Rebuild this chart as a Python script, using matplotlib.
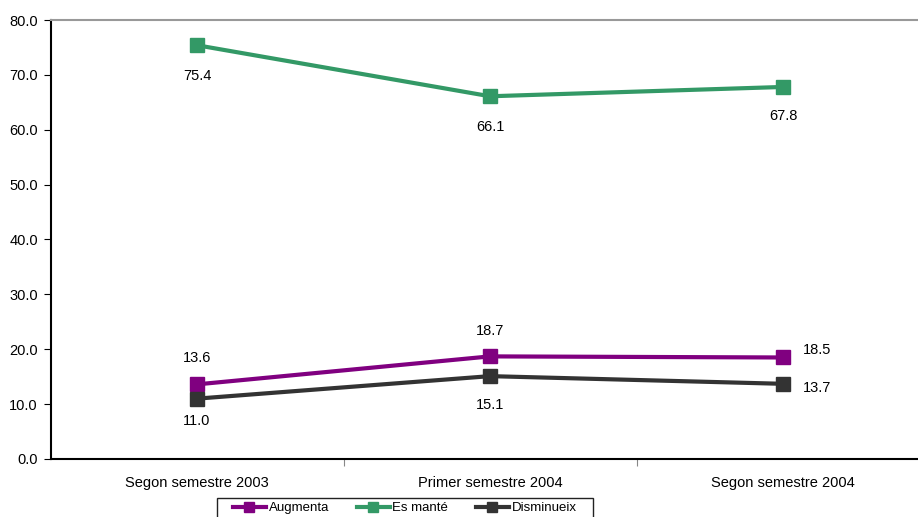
import matplotlib
matplotlib.use("Agg")
import matplotlib.pyplot as plt
from matplotlib.lines import Line2D
from matplotlib.patches import Rectangle

plt.rcParams['font.family'] = ['Liberation Sans', 'DejaVu Sans']

categories = ["Segon semestre 2003", "Primer semestre 2004", "Segon semestre 2004"]
augmenta = [13.6, 18.7, 18.5]
es_mante = [75.4, 66.1, 67.8]
disminueix = [11.0, 15.1, 13.7]
series_names = ["Augmenta", "Es manté", "Disminueix"]
colors = ["#800080", "#339966", "#333333"]

fig = plt.figure(figsize=(9.18, 5.17), dpi=100)
W, H = 918, 517
ax = fig.add_axes([50.5 / W, 1 - 459 / H, 879 / W, (459 - 20) / H])

x = list(range(len(categories)))
for vals, c, name in zip([augmenta, es_mante, disminueix], colors, series_names):
    ax.plot(x, vals, color=c, lw=3, marker='s', ms=10, mec=c, mfc=c, label=name, clip_on=False, zorder=3)

fs = 10.5
offsets_aug = [(0, 14, 'center', 'bottom'), (0, 13, 'center', 'bottom'), (14, 0, 'left', 'bottom')]
offsets_es = [(0, -17, 'center', 'top'), (0, -17, 'center', 'top'), (0, -16, 'center', 'top')]
offsets_dis = [(0, -11, 'center', 'top'), (0, -16, 'center', 'top'), (14, -3, 'left', 'center')]
for vals, offs in [(augmenta, offsets_aug), (es_mante, offsets_es), (disminueix, offsets_dis)]:
    for xi, v, (dx, dy, ha, va) in zip(x, vals, offs):
        ax.annotate(f"{v:.1f}", (xi, v), xytext=(dx, dy), textcoords='offset points',
                    ha=ha, va=va, fontsize=fs, color='black')

ax.set_xlim(-0.5, 2.5)
ax.set_ylim(0, 80)
yt = [0, 10, 20, 30, 40, 50, 60, 70, 80]
ax.set_yticks(yt)
ax.set_yticklabels([f"{v:.1f}" for v in yt], fontsize=fs)
ax.set_xticks([0.5, 1.5])
ax.set_xticklabels([])
ax.set_xticks(x, minor=True)
ax.set_xticklabels(categories, minor=True, fontsize=fs)
ax.tick_params(axis='x', which='minor', length=0, pad=12)
ax.tick_params(axis='x', which='major', length=5, direction='out', color='#888888')
ax.tick_params(axis='y', length=5, direction='out', pad=4)

ax.spines['right'].set_visible(False)
ax.spines['top'].set_color('#999999')
ax.spines['top'].set_linewidth(1.5)
ax.spines['left'].set_linewidth(1.5)
ax.spines['bottom'].set_linewidth(1.5)
ax.spines['left'].set_color('black')
ax.spines['bottom'].set_color('black')

# legend frame
fig.patches.append(Rectangle((217 / W, 1 - 522 / H), (593 - 217) / W, (522 - 498) / H,
                             transform=fig.transFigure, facecolor='white', edgecolor='#222222',
                             linewidth=1.0, zorder=5))
handles = [Line2D([0], [0], color=c, lw=3, marker='s', ms=7, mfc=c, mec=c) for c in colors]
leg = fig.legend(handles, series_names, loc='center left', bbox_to_anchor=(233 / W, 1 - 508 / H),
                 ncol=3, fontsize=9.5, frameon=False,
                 handlelength=2.5, handletextpad=0.2, borderpad=0, borderaxespad=0,
                 columnspacing=2.1)
leg.set_zorder(6)

fig.savefig("out.png", dpi=100)
